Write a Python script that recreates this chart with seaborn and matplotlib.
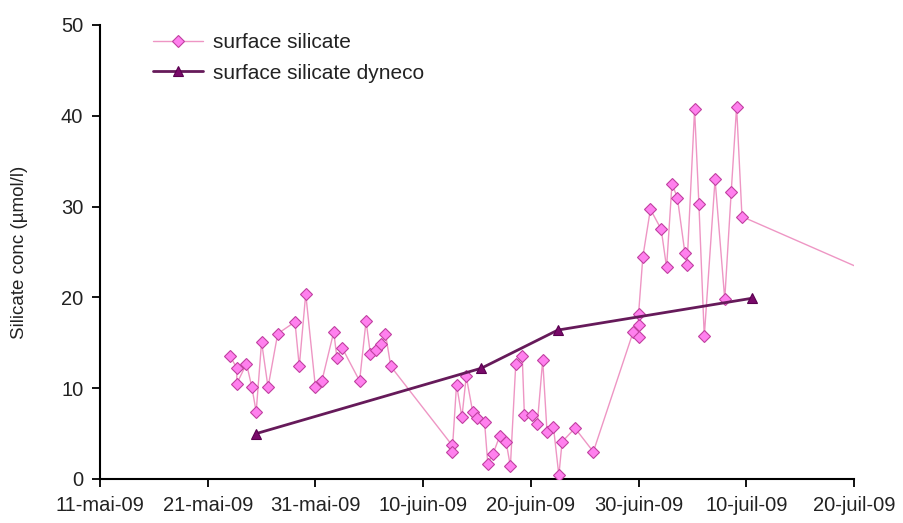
import numpy as np
import pandas as pd
import matplotlib
matplotlib.use("Agg")
import matplotlib.pyplot as plt
import seaborn as sns

# ---- data (days after 11-mai-09) ----
start = "2009-05-11"
pink_days = [12.1, 12.7, 12.7, 13.6, 14.1, 14.5, 15.0, 15.6, 16.5, 18.1, 18.5, 19.1,
             20.0, 20.6, 21.7, 22.0, 22.5, 24.1, 24.7, 25.1, 25.6, 26.1, 26.5, 27.0,
             32.7, 32.7, 33.1, 33.6, 34.0, 34.6, 35.0, 35.7, 36.0, 36.5, 37.1, 37.7,
             38.1, 38.6, 39.2, 39.4, 40.1, 40.6, 41.1, 41.5, 42.1, 42.6, 42.9, 44.1,
             45.8, 49.5, 50.0, 50.0, 50.0, 50.4, 51.1, 52.1, 52.6, 53.1, 53.6, 54.3,
             54.5, 55.2, 55.6, 56.1, 57.1, 58.0, 58.6, 59.1, 59.6, 70.0]
pink_values = [13.5, 12.2, 10.5, 12.7, 10.1, 7.4, 15.1, 10.1, 16.0, 17.3, 12.4, 20.4,
               10.1, 10.8, 16.2, 13.3, 14.4, 10.8, 17.4, 13.8, 14.2, 14.9, 16.0, 12.4,
               3.7, 3.0, 10.4, 6.8, 11.3, 7.4, 6.7, 6.3, 1.7, 2.8, 4.7, 4.1,
               1.4, 12.7, 13.5, 7.0, 7.0, 6.1, 13.1, 5.2, 5.7, 0.4, 4.1, 5.6,
               3.0, 16.2, 15.6, 17.0, 18.2, 24.5, 29.7, 27.5, 23.3, 32.5, 31.0, 24.9,
               23.6, 40.7, 30.3, 15.7, 33.0, 19.8, 31.6, 41.0, 28.9, 23.5]
dyneco_days = [14.5, 35.4, 42.5, 60.5]
dyneco_values = [5.0, 12.2, 16.4, 19.9]

tick_days = [0, 10, 20, 30, 40, 50, 60, 70]
tick_labels = ["11-mai-09", "21-mai-09", "31-mai-09", "10-juin-09", "20-juin-09",
               "30-juin-09", "10-juil-09", "20-juil-09"]
y_ticks = [0, 10, 20, 30, 40, 50]

name_pink = "surface silicate"
name_dyneco = "surface silicate dyneco"

t0 = pd.Timestamp(start)
to_date = lambda d: t0 + pd.to_timedelta(np.asarray(d, dtype=float), unit="D")

df_pink = pd.DataFrame({"date": to_date(pink_days), "value": pink_values})
df_dyn = pd.DataFrame({"date": to_date(dyneco_days), "value": dyneco_values})

sns.set_style("white")
plt.rcParams["font.family"] = ["Liberation Sans", "DejaVu Sans"]

fig = plt.figure(figsize=(9.04, 5.23), dpi=100)
ax = fig.add_axes([100 / 904, 1 - 479 / 523, 754 / 904, 454 / 523])

sns.lineplot(data=df_pink, x="date", y="value", ax=ax, sort=False, estimator=None,
             color="#EE96C4", linewidth=1.0, marker="D", markersize=5.8,
             markerfacecolor="#FF80EE", markeredgecolor="#C040A0", markeredgewidth=0.8,
             markevery=list(range(len(pink_days) - 1)), label=name_pink, zorder=3)
sns.lineplot(data=df_dyn, x="date", y="value", ax=ax, sort=False, estimator=None,
             color="#661A5A", linewidth=2.0, marker="^", markersize=7.5,
             markerfacecolor="#7A0A6A", markeredgecolor="#5A0050", markeredgewidth=0.8,
             label=name_dyneco, zorder=4)

ax.set_xlim(to_date([0])[0], to_date([70])[0])
ax.set_ylim(0, 50)
ax.set_xticks(to_date(tick_days))
ax.set_xticklabels(tick_labels)
ax.set_yticks(y_ticks)
ax.tick_params(axis="both", which="major", labelsize=14.5, length=6, width=1.3,
               direction="out", color="black", labelcolor="#222222", bottom=True, left=True)
ax.tick_params(axis="x", pad=6)
ax.tick_params(axis="y", pad=6)
for s in ["top", "right"]:
    ax.spines[s].set_visible(False)
for s in ["left", "bottom"]:
    ax.spines[s].set_color("black")
    ax.spines[s].set_linewidth(1.5)
ax.grid(False)
ax.set_xlabel("")
ax.set_ylabel("Silicate conc (µmol/l)", fontsize=13.5, color="#222222")
ax.yaxis.set_label_coords(-0.095, 0.5)

leg = ax.legend(loc="center left", bbox_to_anchor=(153 / 904, 1 - 58 / 523),
                bbox_transform=fig.transFigure, frameon=False, fontsize=15,
                handlelength=2.4, handletextpad=0.5, labelspacing=0.55,
                borderpad=0, borderaxespad=0)
for t in leg.get_texts():
    t.set_color("#222222")

fig.savefig("out.png", dpi=100)
